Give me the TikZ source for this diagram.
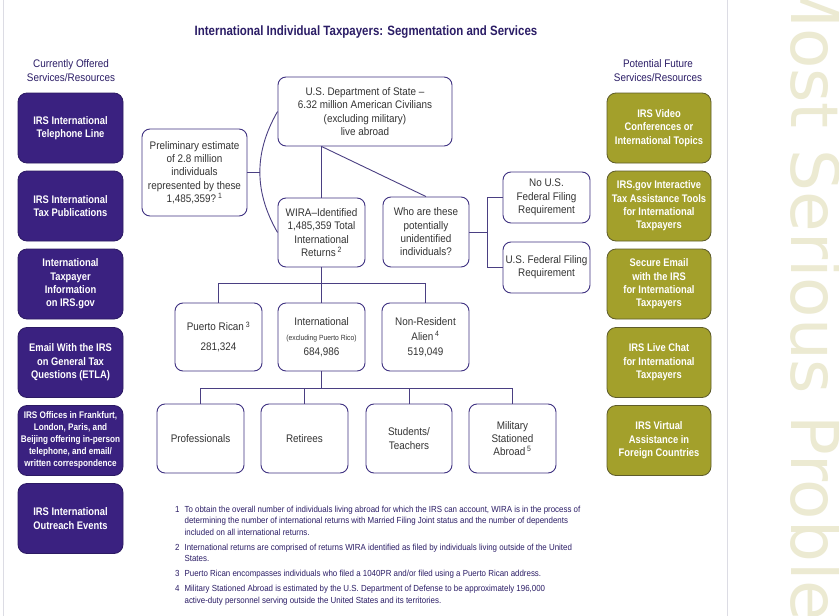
\documentclass[tikz,border=0pt]{standalone}
\usepackage{fontspec}
\setmainfont{Liberation Sans}[FakeStretch=0.9]
\newfontfamily\condfont{Liberation Sans}[FakeStretch=0.85]
\newfontfamily\decofont{DejaVu Sans}
\usetikzlibrary{calc}
\definecolor{irspurple}{HTML}{3A2180}
\definecolor{irspurpledark}{HTML}{2C1A63}
\definecolor{boxline}{HTML}{3F3282}
\definecolor{connline}{HTML}{4A3F82}
\definecolor{olivefill}{HTML}{A3A02B}
\definecolor{olivedraw}{HTML}{5E5C2A}
\definecolor{decocolor}{HTML}{ECEAD2}
\definecolor{rulegray}{HTML}{DCDCE4}
\definecolor{textpurple}{HTML}{2B1D66}
\definecolor{boxtext}{HTML}{333333}
\begin{document}
\begin{tikzpicture}[x=1pt,y=-1pt,
  boxsize/.style 2 args={minimum width=#1pt, minimum height=#2pt},
  wbox/.style={draw=boxline, line width=0.9pt, rounded corners=8pt, fill=white,
    align=center, text=boxtext, font=\fontsize{11}{13.3}\selectfont, inner sep=1pt},
  pbox/.style={fill=irspurple, draw=irspurpledark, line width=0.8pt, rounded corners=9pt,
    minimum width=105pt, minimum height=70pt, text=white, align=center, inner sep=1pt,
    font=\condfont\bfseries\fontsize{11}{13.4}\selectfont},
  obox/.style={fill=olivefill, draw=olivedraw, line width=0.8pt, rounded corners=9pt,
    minimum width=104pt, minimum height=70pt, text=white, align=center, inner sep=1pt,
    font=\condfont\bfseries\fontsize{11}{13.4}\selectfont},
  head/.style={align=center, text=textpurple, font=\fontsize{11}{14}\selectfont},
  conn/.style={draw=connline, line width=0.9pt}
]
\useasboundingbox (0,0) rectangle (839,616);
\fill[white] (0,0) rectangle (839,616);

% decorative side text
\node[rotate=-90, anchor=base west, inner sep=0, text=decocolor,
  font=\decofont\fontsize{66}{66}\selectfont] (deco) at (791,-29) {Most Serious Problems};

% rules
\draw[rulegray, line width=1pt] (3,0) -- (3,616);
\draw[rulegray, line width=1pt] (727,0) -- (727,616);

% title
\node[text=textpurple, font=\condfont\bfseries\fontsize{13.5}{16}\selectfont] (title) at (366,32)
  {International Individual Taxpayers: Segmentation and Services};

% headers
\node[head] (lhead) at (71,71) {Currently Offered\\Services/Resources};
\node[head] (rhead) at (658,71) {Potential Future\\Services/Resources};

% left boxes
\node[pbox] (l1) at (70.5,128) {IRS International\\Telephone Line};
\node[pbox] (l2) at (70.5,206) {IRS International\\Tax Publications};
\node[pbox] (l3) at (70.5,284) {International\\Taxpayer\\Information\\on IRS.gov};
\node[pbox] (l4) at (70.5,362.5) {Email With the IRS\\on General Tax\\Questions (ETLA)};
\node[pbox, font=\condfont\bfseries\fontsize{9.6}{12}\selectfont] (l5) at (70.5,440.5)
  {IRS Offices in Frankfurt,\\London, Paris, and\\Beijing offering in-person\\telephone, and email/\\written correspondence};
\node[pbox] (l6) at (70.5,518.5) {IRS International\\Outreach Events};

% right boxes
\node[obox] (r1) at (659,128) {IRS Video\\Conferences or\\International Topics};
\node[obox] (r2) at (659,206) {IRS.gov Interactive\\Tax Assistance Tools\\for International\\Taxpayers};
\node[obox] (r3) at (659,284) {Secure Email\\with the IRS\\for International\\Taxpayers};
\node[obox] (r4) at (659,362.5) {IRS Live Chat\\for International\\Taxpayers};
\node[obox] (r5) at (659,440.5) {IRS Virtual\\Assistance in\\Foreign Countries};

% center boxes
\node[wbox, boxsize={174}{69}] (state) at (365,111.5)
  {U.S. Department of State –\\6.32 million American Civilians\\(excluding military)\\live abroad};
\node[wbox, boxsize={105}{87}] (prel) at (194.5,172.5)
  {Preliminary estimate\\of 2.8 million\\individuals\\represented by these\\1,485,359?\,\textsuperscript{1}};
\node[wbox, boxsize={87}{69}] (wira) at (321.5,232.5)
  {WIRA–Identified\\1,485,359 Total\\International\\Returns\,\textsuperscript{2}};
\node[wbox, boxsize={86}{70}] (who) at (426,232)
  {Who are these\\potentially\\unidentified\\individuals?};
\node[wbox, boxsize={87}{51}] (nous) at (546.5,197.5)
  {No U.S.\\Federal Filing\\Requirement};
\node[wbox, boxsize={87}{51}] (usf) at (546.5,267.5)
  {U.S. Federal Filing\\Requirement};

\node[wbox, boxsize={87}{68}, font=\fontsize{11}{15}\selectfont] (pr) at (218.5,337)
  {Puerto Rican\,\textsuperscript{3}\\[5pt]281,324};
\node[wbox, boxsize={87}{68}, font=\fontsize{11}{15}\selectfont] (intl) at (321.5,337)
  {International\\{\fontsize{7.5}{9}\selectfont(excluding Puerto Rico)}\\684,986};
\node[wbox, boxsize={87}{68}, font=\fontsize{11}{15}\selectfont] (nr) at (425.5,337)
  {Non-Resident\\Alien\,\textsuperscript{4}\\519,049};

\node[wbox, boxsize={87}{69}] (prof) at (200.5,438.5) {Professionals};
\node[wbox, boxsize={87}{69}] (ret) at (304.5,438.5) {Retirees};
\node[wbox, boxsize={86}{69}] (stu) at (409,438.5) {Students/\\Teachers};
\node[wbox, boxsize={87}{69}] (mil) at (512.5,438.5) {Military\\Stationed\\Abroad\,\textsuperscript{5}};

% connectors
\draw[conn] (wira.north |- state.south) -- (wira.north);
\draw[conn] (wira.north |- state.south) -- (who.north);
\draw[conn] (state.west) to[bend right=30] coordinate[pos=0.5] (arcmid) (wira.west);
\draw[conn] (prel.east) -- (prel.east -| arcmid);

\coordinate (whoj) at ($(who.east)+(18,0)$);
\draw[conn] (who.east) -- (whoj);
\draw[conn] (nous.west) -| (whoj) |- (usf.west);

\coordinate (busA) at ($(wira.south)+(0,16)$);
\draw[conn] (wira.south) -- (intl.north);
\draw[conn] (pr.north) |- (busA) -| (nr.north);

\coordinate (busB) at ($(intl.south)+(0,16.5)$);
\draw[conn] (intl.south) -- (busB);
\draw[conn] (prof.north) |- (busB) -| (mil.north);
\draw[conn] (ret.north) -- (ret.north |- busB);
\draw[conn] (stu.north) -- (stu.north |- busB);

% footnotes
\node[anchor=north west, inner sep=0, text=textpurple, font=\fontsize{8.8}{11.5}\selectfont] (notes) at (175,504)
{\begin{tabular}{@{}l@{\hspace{5pt}}l@{}}
1 & To obtain the overall number of individuals living abroad for which the IRS can account, WIRA is in the process of\\
  & determining the number of international returns with Married Filing Joint status and the number of dependents\\
  & included on all international returns.\\[3.5pt]
2 & International returns are comprised of returns WIRA identified as filed by individuals living outside of the United\\
  & States.\\[3.5pt]
3 & Puerto Rican encompasses individuals who filed a 1040PR and/or filed using a Puerto Rican address.\\[3.5pt]
4 & Military Stationed Abroad is estimated by the U.S. Department of Defense to be approximately 196,000\\
  & active-duty personnel serving outside the United States and its territories.
\end{tabular}};
\end{tikzpicture}
\end{document}
